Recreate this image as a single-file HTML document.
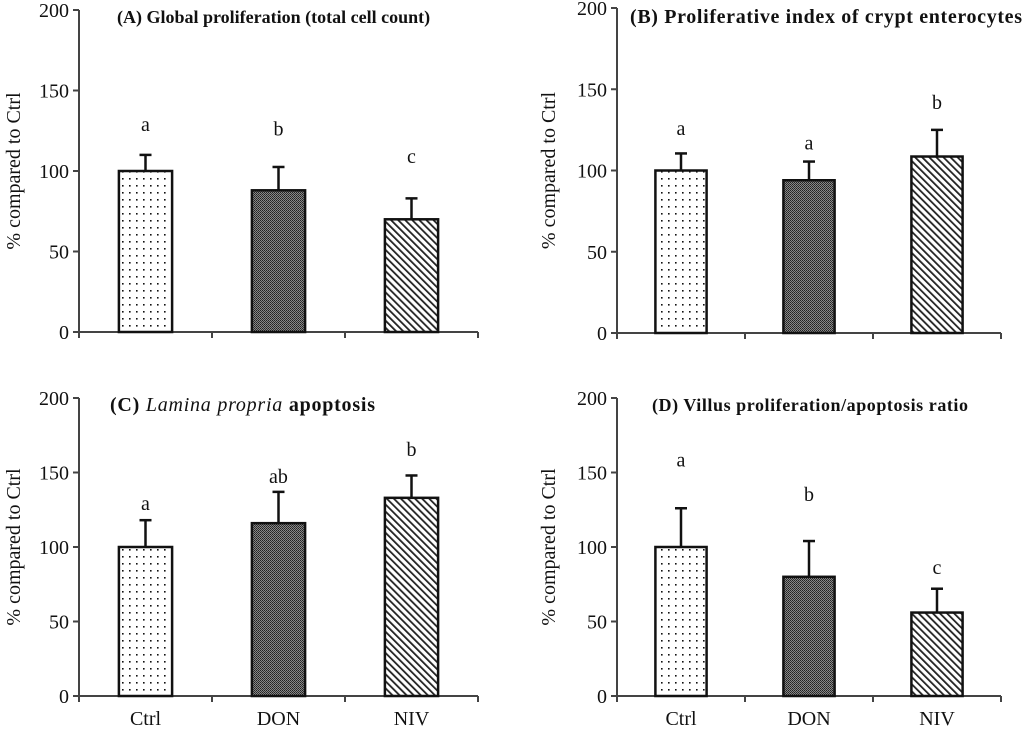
<!DOCTYPE html>
<html><head><meta charset="utf-8"><style>
html,body{margin:0;padding:0;background:#fff}
svg{display:block}
text{font-family:"Liberation Serif",serif;fill:#111}
</style></head><body>
<svg id="chart" width="1024" height="734" viewBox="0 0 1024 734" xmlns="http://www.w3.org/2000/svg">
<defs>
<pattern id="pDots" width="7" height="7" patternUnits="userSpaceOnUse"><rect width="7" height="7" fill="#fff"/><rect x="3" y="3" width="1.6" height="1.6" fill="#111"/></pattern>
<pattern id="pDark" width="2" height="2" patternUnits="userSpaceOnUse"><rect width="2" height="2" fill="#888"/><rect width="1" height="1" fill="#222"/><rect x="1" y="1" width="1" height="1" fill="#333"/></pattern>
<pattern id="pStripe" width="5" height="5" patternUnits="userSpaceOnUse" patternTransform="rotate(-45)"><rect width="5" height="5" fill="#fff"/><rect x="0" y="0" width="1.8" height="5" fill="#222"/></pattern>
</defs>
</svg>
<script>
const categories = ["Ctrl","DON","NIV"];
const titles = ["(A) Global proliferation (total cell count)","(B) Proliferative index of crypt enterocytes","(C) Lamina propria apoptosis","(D) Villus proliferation/apoptosis ratio"];
const valuesA = [100, 88, 70];
const errorsA = [110, 102.5, 83];
const lettersA = ["a","b","c"];
const letterPosA = [125, 122, 105];
const valuesB = [100, 94, 108.6];
const errorsB = [110.5, 105.5, 125];
const lettersB = ["a","a","b"];
const letterPosB = [122, 113, 138];
const valuesC = [100, 116, 133];
const errorsC = [118, 137, 148];
const lettersC = ["a","ab","b"];
const letterPosC = [125, 143, 161];
const valuesD = [100, 80, 56];
const errorsD = [126, 104, 72];
const lettersD = ["a","b","c"];
const letterPosD = [154, 131, 82];
const yTicks = [0, 50, 100, 150, 200];

const svg = document.getElementById('chart');
const NS = "http://www.w3.org/2000/svg";
function mk(tag, attrs, parent){const e=document.createElementNS(NS,tag);for(const k in attrs)e.setAttribute(k,attrs[k]);(parent||svg).appendChild(e);return e;}
const fills = ["url(#pDots)","url(#pDark)","url(#pStripe)"];
const panels = [
 {id:"a",x0:79,x1:478,y0:332,y200:10,vals:valuesA,errs:errorsA,lets:lettersA,lp:letterPosA,tx:117,ty:23,tw:0,fs:18,ylx:20,xlabels:false},
 {id:"b",x0:617,x1:1001,y0:333,y200:8,vals:valuesB,errs:errorsB,lets:lettersB,lp:letterPosB,tx:630,ty:23,tw:392,fs:20,ylx:555,xlabels:false},
 {id:"c",x0:79,x1:478,y0:696,y200:398,vals:valuesC,errs:errorsC,lets:lettersC,lp:letterPosC,tx:110,ty:411,tw:265,fs:20,ylx:20,xlabels:true},
 {id:"d",x0:617,x1:1001,y0:696,y200:398,vals:valuesD,errs:errorsD,lets:lettersD,lp:letterPosD,tx:652,ty:411,tw:316,fs:18,ylx:555,xlabels:true}
];
panels.forEach((p,pi)=>{
 const g = mk('g',{});
 
 
 const y = v => p.y0 - (p.y0-p.y200)*v/200;
 const cw = (p.x1-p.x0)/categories.length;
 const bw = cw*0.4;
 const ya = mk('line',{x1:p.x0,y1:p.y200,x2:p.x0,y2:p.y0,stroke:'#444','stroke-width':2},g);
 
 
 const xa = mk('line',{x1:p.x0-6,y1:p.y0,x2:p.x1,y2:p.y0,stroke:'#444','stroke-width':2},g);
 
 
 yTicks.forEach(t=>{
  mk('line',{x1:p.x0-6,y1:y(t),x2:p.x0,y2:y(t),stroke:'#444','stroke-width':2},g);
  const tl = mk('text',{x:p.x0-10,y:y(t)+7,'text-anchor':'end','font-size':20},g);
  tl.textContent=t;
  
  
 });
 for(let i=0;i<=categories.length;i++){
  mk('line',{x1:p.x0+cw*i,y1:p.y0,x2:p.x0+cw*i,y2:p.y0+6,stroke:'#444','stroke-width':2},g);
 }
 categories.forEach((c,i)=>{
  const cx = p.x0+cw*(i+0.5);
  const top = y(p.vals[i]);
  const et = y(p.errs[i]);
  const el = mk('line',{x1:cx,y1:top,x2:cx,y2:et,stroke:'#111','stroke-width':2.5},g);
  
  
  mk('line',{x1:cx-6,y1:et,x2:cx+6,y2:et,stroke:'#111','stroke-width':2.5},g);
  const b = mk('rect',{x:cx-bw/2,y:top,width:bw,height:p.y0-top,fill:fills[i],stroke:'#111','stroke-width':2.5},g);
  
  
  const lt = mk('text',{x:cx,y:y(p.lp[i]),'text-anchor':'middle','font-size':20},g);
  lt.textContent=p.lets[i];
  
  
  if(p.xlabels){
   const xl = mk('text',{x:cx,y:p.y0+29,'text-anchor':'middle','font-size':20},g);
   xl.textContent=c;
   
   
  }
 });
 const yt = mk('text',{x:0,y:0,'text-anchor':'middle','font-size':20,transform:`translate(${p.ylx},${(p.y0+p.y200)/2}) rotate(-90)`},g);
 yt.textContent='% compared to Ctrl';
 
 
 const ta = {x:p.tx,y:p.ty,'font-size':p.fs,'font-weight':'bold'};
 if(p.tw){ta.textLength=p.tw;ta.lengthAdjust='spacing';}
 const tt = mk('text',ta,g);
 
 
 if(pi===2){
  const s1=mk('tspan',{},tt);s1.textContent='(C) ';
  const s2=mk('tspan',{'font-style':'italic','font-weight':'normal'},tt);s2.textContent='Lamina propria';
  const s3=mk('tspan',{},tt);s3.textContent=' apoptosis';
 } else tt.textContent=titles[pi];
});
</script>
</body></html>
